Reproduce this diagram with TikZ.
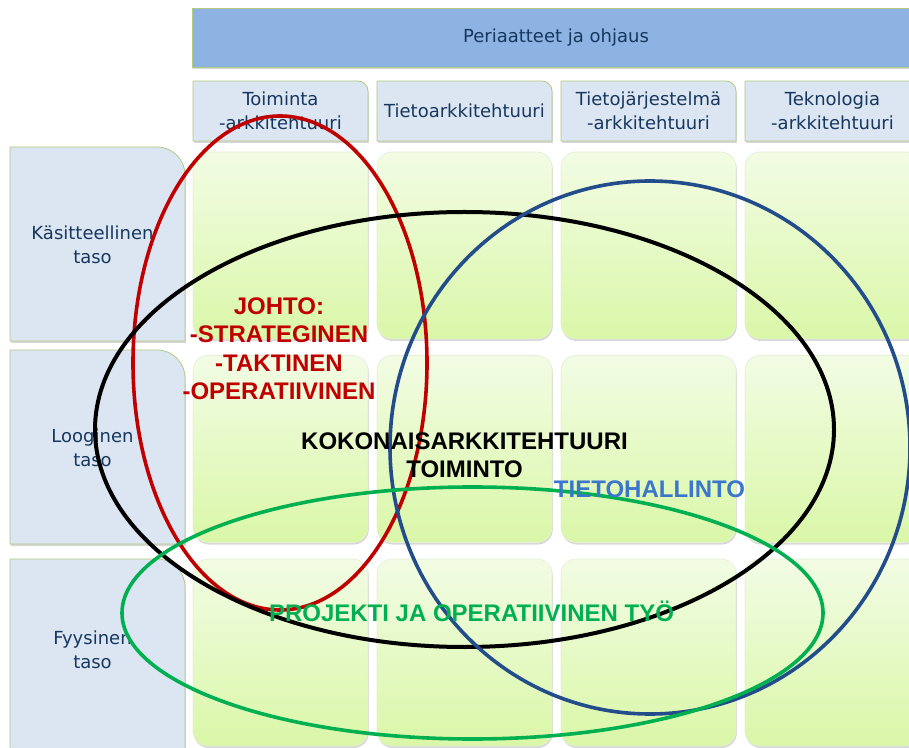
\documentclass[tikz,border=0pt]{standalone}
\usepackage{fontspec}
\setmainfont{DejaVu Sans}
\newfontfamily\zonefont{Liberation Sans}
\usepackage{tikz}
\usepackage{xcolor}
\usetikzlibrary{shapes.geometric, shadows}

\definecolor{barblue}{HTML}{8DB3E2}
\definecolor{tabblue}{HTML}{DCE6F2}
\definecolor{tabedge}{HTML}{B2CB7F}
\definecolor{navy}{HTML}{17375E}
\definecolor{celltop}{HTML}{F2FCE4}
\definecolor{cellbot}{HTML}{DAF7A8}
\definecolor{celledge}{HTML}{E4EFD6}
\definecolor{johtored}{HTML}{C00000}
\definecolor{hallring}{HTML}{234C8A}
\definecolor{hallfont}{HTML}{3A76CC}
\definecolor{projgreen}{HTML}{00B050}

\tikzstyle{softshadow} = [drop shadow={shadow xshift=0.8pt, shadow yshift=-2pt, opacity=0.3}]
\tikzstyle{tab} = [draw=tabedge, line width=0.8pt, fill=tabblue, softshadow]
\tikzstyle{headbar} = [rectangle, minimum width=728pt, minimum height=59pt, draw=tabedge, line width=0.8pt, fill=barblue, softshadow, text=navy, font=\fontsize{18}{24}\selectfont]
\tikzstyle{tabtext} = [text=navy, align=center, inner sep=0pt, font=\fontsize{18}{24}\selectfont]
\tikzstyle{cellbox} = [rectangle, rounded corners=15pt, minimum width=175pt, minimum height=187pt, draw=celledge, line width=0.6pt, top color=celltop, bottom color=cellbot, softshadow]
\tikzstyle{zone} = [line width=3.6pt]
\tikzstyle{zonetext} = [align=center, inner sep=0pt, font=\zonefont\bfseries\fontsize{24}{28.5}\selectfont]

\begin{document}
\begin{tikzpicture}[x=1pt, y=1pt]
\fill [white] (0,0) rectangle (909,747);
\useasboundingbox (0,0) rectangle (909,747);

% grid of cells
\foreach \c/\x in {1/280.5, 2/464.5, 3/648.5, 4/832.5}
  \foreach \r/\y in {1/501.5, 2/298, 3/94.5}
    \node (cell\r\c) [cellbox] at (\x,\y) {};

% top bar
\node (ohjaus) [headbar] at (556,709.5) {Periaatteet ja ohjaus};

% column tabs
\foreach \x in {193, 377, 561, 745}
  \draw [tab] (\x,606) -- (\x,666) -- (\x+165,666) arc[start angle=90, end angle=0, radius=10pt] -- (\x+175,606) -- cycle;
\node (toiminta) [tabtext] at (280.5,636) {Toiminta\\-arkkitehtuuri};
\node (tieto) [tabtext] at (464.5,636) {Tietoarkkitehtuuri};
\node (tietojarj) [tabtext] at (648.5,636) {Tietojärjestelmä\\-arkkitehtuuri};
\node (tekno) [tabtext] at (832.5,636) {Teknologia\\-arkkitehtuuri};

% row tabs
\foreach \y in {406, 203, -6}
  \draw [tab] (10,\y) -- (10,\y+194) -- (157,\y+194) arc[start angle=90, end angle=0, radius=28pt] -- (185,\y) -- cycle;
\node (kasite) [tabtext] at (92.5,502) {Käsitteellinen\\taso};
\node (looginen) [tabtext] at (92.5,299) {Looginen\\taso};
\node (fyysinen) [tabtext] at (92.5,97) {Fyysinen\\taso};

% rings
\draw [zone, johtored] (280,384) ellipse [x radius=147pt, y radius=247pt];
\draw [zone, black, line width=4pt] (464.5,317.5) ellipse [x radius=369.5pt, y radius=217.5pt];
\draw [zone, hallring] (650,299.5) ellipse [x radius=260pt, y radius=266.5pt];
\draw [zone, projgreen] (472.5,134) ellipse [x radius=350.5pt, y radius=126pt];

\node (johto) [zonetext, text=johtored] at (279,398.5) {JOHTO:\\-STRATEGINEN\\-TAKTINEN\\-OPERATIIVINEN};
\node (kokonais) [zonetext] at (464.5,292) {KOKONAISARKKITEHTUURI\\TOIMINTO};
\node (hallinto) [zonetext, text=hallfont, anchor=base] at (649.5,249) {TIETOHALLINTO};
\node (projekti) [zonetext, text=projgreen, anchor=base] at (471.5,126) {PROJEKTI JA OPERATIIVINEN TYÖ};
\end{tikzpicture}
\end{document}
